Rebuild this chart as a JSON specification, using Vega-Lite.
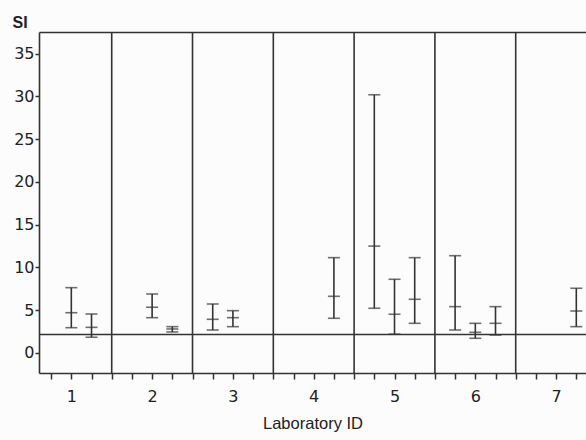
{
  "$schema": "https://vega.github.io/schema/vega-lite/v6.json",
  "autosize": {"type": "none"},
  "width": 547,
  "height": 341,
  "padding": {"left": 39, "top": 32, "right": 0, "bottom": 67},
  "background": "#fbfcfb",
  "config": {
    "view": {"stroke": null},
    "font": "Liberation Sans",
    "axis": {
      "domainColor": "#333333", "domainWidth": 1.6, "tickColor": "#333333", "tickWidth": 1.5,
      "labelColor": "#222222", "titleColor": "#222222", "labelFont": "DejaVu Sans", "titleFont": "Liberation Sans",
      "labelFontSize": 16, "titleFontSize": 16.5, "titleFontWeight": "normal", "grid": false
    }
  },
  "datasets": {
    "bars": [
      {"lab": 1, "pos": 1.0, "low": 2.96, "mid": 4.71, "high": 7.64},
      {"lab": 1, "pos": 1.25, "low": 1.84, "mid": 3.0, "high": 4.56},
      {"lab": 2, "pos": 2.0, "low": 4.13, "mid": 5.35, "high": 6.9},
      {"lab": 2, "pos": 2.25, "low": 2.46, "mid": 2.81, "high": 3.08},
      {"lab": 3, "pos": 2.75, "low": 2.69, "mid": 3.94, "high": 5.73},
      {"lab": 3, "pos": 3.0, "low": 3.08, "mid": 4.13, "high": 4.95},
      {"lab": 4, "pos": 4.25, "low": 4.06, "mid": 6.63, "high": 11.15},
      {"lab": 5, "pos": 4.75, "low": 5.23, "mid": 12.5, "high": 30.2},
      {"lab": 5, "pos": 5.0, "low": 2.2, "mid": 4.53, "high": 8.62},
      {"lab": 5, "pos": 5.25, "low": 3.47, "mid": 6.28, "high": 11.15},
      {"lab": 6, "pos": 5.75, "low": 2.69, "mid": 5.42, "high": 11.38},
      {"lab": 6, "pos": 6.0, "low": 1.72, "mid": 2.42, "high": 3.47},
      {"lab": 6, "pos": 6.25, "low": 2.1, "mid": 3.47, "high": 5.42},
      {"lab": 7, "pos": 7.25, "low": 3.08, "mid": 4.91, "high": 7.57}
    ],
    "dividers": [{"x": 1.5}, {"x": 2.5}, {"x": 3.5}, {"x": 4.5}, {"x": 5.5}, {"x": 6.5}],
    "ref": [{"si": 2.15}]
  },
  "resolve": {"axis": {"x": "independent"}},
  "layer": [
    {
      "data": {"name": "dividers"},
      "mark": {"type": "rule", "color": "#333333", "strokeWidth": 1.6},
      "encoding": {
        "x": {"field": "x", "type": "quantitative",
          "scale": {"domain": [0.6, 7.37], "nice": false, "zero": false},
          "axis": {"orient": "bottom", "title": "Laboratory ID", "titlePadding": 11, "labelOverlap": false,
            "values": [0.75,1,1.25,1.5,1.75,2,2.25,2.5,2.75,3,3.25,3.5,3.75,4,4.25,4.5,4.75,5,5.25,5.5,5.75,6,6.25,6.5,6.75,7,7.25],
            "labelExpr": "datum.value % 1 === 0 ? toString(datum.value) : ''", "tickSize": 6, "labelPadding": 9}
        }
      }
    },
    {
      "data": {"name": "ref"},
      "mark": {"type": "rule", "color": "#333333", "strokeWidth": 1.5},
      "encoding": {
        "y": {"field": "si", "type": "quantitative",
          "scale": {"domain": [-2.34, 37.54], "nice": false, "zero": false},
          "axis": {"orient": "left", "values": [0,5,10,15,20,25,30,35], "tickSize": 4, "labelPadding": 1,
            "title": "SI", "titleAngle": 0, "titleAlign": "left", "titleBaseline": "middle", "titleX": -27, "titleY": -10,
            "titleFontSize": 16, "titleFontWeight": "bold"}
        }
      }
    },
    {
      "data": {"name": "bars"},
      "mark": {"type": "rule", "color": "#333333", "strokeWidth": 1.6},
      "encoding": {
        "x": {"field": "pos", "type": "quantitative", "axis": {"orient": "top", "ticks": false, "labels": false, "title": null}},
        "y": {"field": "low", "type": "quantitative"},
        "y2": {"field": "high"}
      }
    },
    {
      "data": {"name": "bars"},
      "mark": {"type": "tick", "color": "#333333", "thickness": 1.6, "size": 12, "orient": "horizontal"},
      "encoding": {"x": {"field": "pos", "type": "quantitative", "axis": null}, "y": {"field": "low", "type": "quantitative"}}
    },
    {
      "data": {"name": "bars"},
      "mark": {"type": "tick", "color": "#333333", "thickness": 1.6, "size": 12, "orient": "horizontal"},
      "encoding": {"x": {"field": "pos", "type": "quantitative", "axis": null}, "y": {"field": "mid", "type": "quantitative"}}
    },
    {
      "data": {"name": "bars"},
      "mark": {"type": "tick", "color": "#333333", "thickness": 1.6, "size": 12, "orient": "horizontal"},
      "encoding": {"x": {"field": "pos", "type": "quantitative", "axis": null}, "y": {"field": "high", "type": "quantitative"}}
    }
  ]
}
